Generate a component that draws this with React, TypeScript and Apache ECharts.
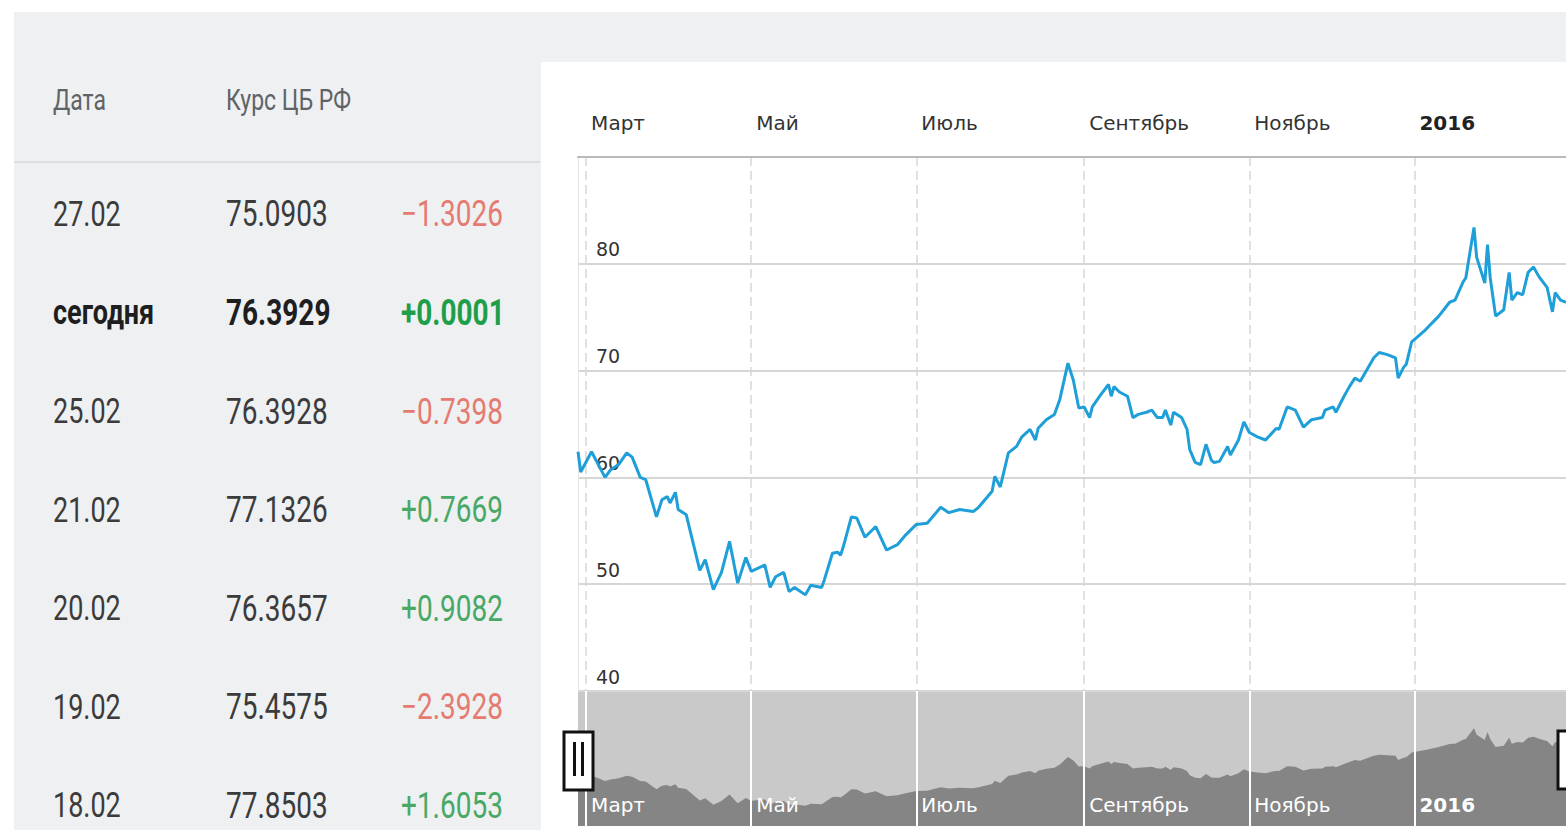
import React, { useEffect, useRef } from "react";
import * as echarts from "echarts";

// ---- data ----
const RATE_DATES = [
  "2015-02-26","2015-02-27","2015-03-03","2015-03-08","2015-03-10","2015-03-13","2015-03-16","2015-03-18","2015-03-21","2015-03-23",
  "2015-03-27","2015-03-29","2015-03-31","2015-04-01","2015-04-03","2015-04-04","2015-04-07","2015-04-12","2015-04-14","2015-04-17",
  "2015-04-20","2015-04-23","2015-04-26","2015-04-29","2015-05-01","2015-05-06","2015-05-08","2015-05-10","2015-05-13","2015-05-15",
  "2015-05-17","2015-05-21","2015-05-23","2015-05-27","2015-05-28","2015-05-31","2015-06-02","2015-06-03","2015-06-04","2015-06-07",
  "2015-06-09","2015-06-12","2015-06-16","2015-06-20","2015-06-24","2015-06-27","2015-07-01","2015-07-05","2015-07-10","2015-07-13",
  "2015-07-17","2015-07-22","2015-07-24","2015-07-29","2015-07-30","2015-08-01","2015-08-04","2015-08-07","2015-08-09","2015-08-12",
  "2015-08-14","2015-08-15","2015-08-18","2015-08-21","2015-08-23","2015-08-26","2015-08-28","2015-08-30","2015-09-01","2015-09-03",
  "2015-09-04","2015-09-07","2015-09-10","2015-09-11","2015-09-12","2015-09-14","2015-09-17","2015-09-19","2015-09-21","2015-09-24",
  "2015-09-26","2015-09-28","2015-09-30","2015-10-01","2015-10-03","2015-10-04","2015-10-07","2015-10-09","2015-10-10","2015-10-12",
  "2015-10-14","2015-10-16","2015-10-18","2015-10-19","2015-10-21","2015-10-24","2015-10-25","2015-10-28","2015-10-30","2015-11-01",
  "2015-11-04","2015-11-07","2015-11-11","2015-11-12","2015-11-15","2015-11-18","2015-11-21","2015-11-24","2015-11-28","2015-11-29",
  "2015-12-02","2015-12-03","2015-12-06","2015-12-08","2015-12-10","2015-12-12","2015-12-17","2015-12-19","2015-12-22","2015-12-25",
  "2015-12-26","2015-12-28","2015-12-29","2015-12-31","2016-01-05","2016-01-10","2016-01-14","2016-01-16","2016-01-19","2016-01-20",
  "2016-01-23","2016-01-24","2016-01-27","2016-01-28","2016-01-29","2016-01-31","2016-02-03","2016-02-05","2016-02-06","2016-02-08",
  "2016-02-10","2016-02-12","2016-02-14","2016-02-16","2016-02-19","2016-02-21","2016-02-22","2016-02-24","2016-02-26"
];
const RATE_VALUES = [
  62.4,60.5,62.4,60.0,60.7,61.2,62.3,61.9,60.0,59.8,
  56.3,57.9,58.2,57.6,58.6,57.0,56.5,51.3,52.3,49.5,
  51.1,54.0,50.1,52.5,51.2,51.8,49.7,50.7,51.1,49.3,
  49.7,49.0,49.9,49.7,50.4,52.9,53.0,52.7,53.5,56.3,
  56.2,54.4,55.4,53.2,53.7,54.6,55.6,55.7,57.2,56.7,
  57.0,56.8,57.2,58.7,60.1,59.1,62.3,62.9,63.8,64.5,
  63.5,64.6,65.4,65.9,67.3,70.7,69.1,66.5,66.6,65.6,
  66.6,67.7,68.7,67.6,68.5,68.0,67.6,65.6,65.9,66.1,
  66.3,65.6,65.6,66.3,64.9,66.1,65.6,64.5,62.6,61.4,
  61.2,63.1,61.6,61.4,61.5,62.9,62.1,63.5,65.2,64.2,
  63.8,63.5,64.6,64.5,66.6,66.3,64.7,65.4,65.6,66.3,
  66.6,66.1,67.6,68.5,69.3,69.0,71.2,71.7,71.5,71.2,
  69.3,70.3,70.6,72.7,73.8,75.1,76.4,76.6,78.3,78.7,
  83.4,80.6,78.2,81.8,78.7,75.1,75.7,79.2,76.6,77.3,
  77.1,79.2,79.7,78.8,77.8,75.5,77.3,76.6,76.4
];
const X_START = "2015-02-26";
const X_END = "2016-02-26";
const MONTH_TICKS = ["2015-03-01", "2015-05-01", "2015-07-01", "2015-09-01", "2015-11-01", "2016-01-01"];
const MONTH_LABELS = ["Март", "Май", "Июль", "Сентябрь", "Ноябрь", "2016"];
const BOLD_LABELS = ["2016"];
const Y_MIN = 40;
const Y_MAX = 90;
const Y_STEP = 10;
const NAV_Y_MIN = 40;
const NAV_Y_MAX = 100;

const TABLE_HEADERS = ["Дата", "Курс ЦБ РФ"];
const TABLE_DATES = ["27.02", "сегодня", "25.02", "21.02", "20.02", "19.02", "18.02"];
const TABLE_RATES = ["75.0903", "76.3929", "76.3928", "77.1326", "76.3657", "75.4575", "77.8503"];
const TABLE_CHANGES = ["−1.3026", "+0.0001", "−0.7398", "+0.7669", "+0.9082", "−2.3928", "+1.6053"];
const TODAY_ROW = 1;

// ---- helpers ----
const ts = (s: string) => {
  const [y, m, d] = s.split("-").map(Number);
  return new Date(y, m - 1, d).getTime();
};

const TICK_TS = MONTH_TICKS.map(ts);
const labelFor = (v: number) => {
  const i = TICK_TS.findIndex((t) => Math.abs(t - v) < 43200000);
  if (i < 0) return "";
  const lab = MONTH_LABELS[i];
  return BOLD_LABELS.includes(lab) ? `{b|${lab}}` : lab;
};

const CHART_FONT = "'DejaVu Sans', Verdana, sans-serif";
const TABLE_FONT = "Roboto, 'Noto Sans', sans-serif";

export default function App() {
  const ref = useRef<HTMLDivElement>(null);

  useEffect(() => {
    if (!ref.current) return;
    const chart = echarts.init(ref.current, undefined, { renderer: "svg" });
    const data = RATE_DATES.map((d, i) => [ts(d), RATE_VALUES[i]]);

    const W = 1566;
    const H = 830;
    const plotLeft = 578;
    const mainTop = 157;
    const navTop = 691;
    const navBottom = 826;

    const textEl = (
      text: string,
      x: number,
      y: number,
      fill: string,
      size: number,
      weight: string = "normal"
    ) => ({
      type: "text",
      x,
      y,
      scaleY: 1.3,
      z: 20,
      style: {
        text,
        fill,
        fontSize: size,
        lineHeight: size,
        fontFamily: TABLE_FONT,
        fontWeight: weight,
        align: "left",
        verticalAlign: "middle",
        textAlign: "left",
        textVerticalAlign: "middle",
      },
    });

    const rowY0 = 214;
    const rowStep = 98.6;
    const tableTexts: any[] = [
      textEl(TABLE_HEADERS[0], 53, 100, "#5f6366", 23),
      textEl(TABLE_HEADERS[1], 226, 100, "#5f6366", 23),
    ];
    TABLE_DATES.forEach((d, i) => {
      const y = rowY0 + i * rowStep;
      const bold = i === TODAY_ROW;
      const ch = TABLE_CHANGES[i];
      const up = ch.startsWith("+");
      const chColor = bold ? "#1f9e4a" : up ? "#48a865" : "#e57b70";
      tableTexts.push(textEl(d, 53, y, bold ? "#1e1e1e" : "#3b3b3b", 27, bold ? "bold" : "normal"));
      tableTexts.push(textEl(TABLE_RATES[i], 226, y, bold ? "#1e1e1e" : "#3b3b3b", 28, bold ? "bold" : "normal"));
      tableTexts.push(textEl(ch, 401, y, chColor, 28, bold ? "bold" : "normal"));
    });

    const handle = (x: number, y: number) => ({
      type: "group",
      x,
      y,
      z: 30,
      children: [
        { type: "rect", shape: { x: 0, y: 0, width: 29, height: 58 }, style: { fill: "#ffffff", stroke: "#111111", lineWidth: 3 }, z: 30 },
        { type: "rect", shape: { x: 9, y: 10, width: 3, height: 34 }, style: { fill: "#111111" }, z: 31 },
        { type: "rect", shape: { x: 17, y: 10, width: 3, height: 34 }, style: { fill: "#111111" }, z: 31 },
      ],
    });

    chart.setOption({
      animation: false,
      backgroundColor: "#ffffff",
      graphic: {
        elements: [
          { type: "rect", z: -2, shape: { x: 14, y: 12, width: W - 14, height: H - 12 }, style: { fill: "#eef0f2" } },
          { type: "rect", z: -1, shape: { x: 541, y: 62, width: W - 541, height: H - 62 }, style: { fill: "#ffffff" } },
          { type: "line", z: -1, shape: { x1: 14, y1: 162, x2: 540, y2: 162 }, style: { stroke: "#dcdfe2", lineWidth: 2 } },
          ...tableTexts,
          handle(564, 732),
          handle(1558, 731),
        ],
      },
      grid: [
        { left: plotLeft, right: 0, top: mainTop, bottom: H - navTop, containLabel: false },
        {
          left: plotLeft,
          right: 0,
          top: navTop,
          bottom: H - navBottom,
          show: true,
          backgroundColor: "#c9c9c9",
          borderWidth: 0,
        },
      ],
      xAxis: [
        {
          type: "value",
          gridIndex: 0,
          position: "top",
          min: ts(X_START),
          max: ts(X_END),
          axisLine: { show: true, lineStyle: { color: "#b9b9b9", width: 2 } },
          axisTick: { show: false, customValues: TICK_TS },
          axisLabel: {
            customValues: TICK_TS,
            formatter: labelFor,
            align: "left",
            padding: [0, 0, 0, 5],
            margin: 24,
            color: "#333333",
            fontFamily: CHART_FONT,
            fontSize: 20,
            rich: { b: { fontWeight: "bold", fontFamily: CHART_FONT, fontSize: 20, color: "#222222" } },
            hideOverlap: false,
          },
          splitLine: { show: true, lineStyle: { color: "#d8d8d8", width: 1.5, type: [9, 5] } },
        },
        {
          type: "value",
          gridIndex: 1,
          position: "bottom",
          min: ts(X_START),
          max: ts(X_END),
          z: 5,
          axisLine: { show: false },
          axisTick: { show: false, customValues: TICK_TS },
          axisLabel: {
            inside: true,
            customValues: TICK_TS,
            formatter: labelFor,
            align: "left",
            padding: [0, 0, 0, 5],
            margin: 11,
            color: "#ffffff",
            fontFamily: CHART_FONT,
            fontSize: 20,
            rich: { b: { fontWeight: "bold", fontFamily: CHART_FONT, fontSize: 20, color: "#ffffff" } },
          },
          splitLine: { show: true, lineStyle: { color: "#ffffff", width: 2, type: "solid" } },
        },
      ],
      yAxis: [
        {
          type: "value",
          gridIndex: 0,
          min: Y_MIN,
          max: Y_MAX,
          interval: Y_STEP,
          axisLine: { show: true, lineStyle: { color: "#e4e4e4", width: 1 } },
          axisTick: { show: false },
          axisLabel: {
            inside: true,
            margin: 18,
            showMaxLabel: false,
            verticalAlign: "bottom",
            padding: [0, 0, 5, 0],
            color: "#333333",
            fontFamily: CHART_FONT,
            fontSize: 19,
          },
          splitLine: { show: true, lineStyle: { color: "#d6d6d6", width: 2 } },
        },
        {
          type: "value",
          gridIndex: 1,
          min: NAV_Y_MIN,
          max: NAV_Y_MAX,
          show: false,
          splitLine: { show: false },
        },
      ],
      series: [
        {
          type: "line",
          xAxisIndex: 0,
          yAxisIndex: 0,
          data,
          showSymbol: false,
          symbol: "none",
          clip: true,
          lineStyle: { color: "#1f9fd8", width: 3 },
          z: 3,
        },
        {
          type: "line",
          xAxisIndex: 1,
          yAxisIndex: 1,
          data,
          showSymbol: false,
          symbol: "none",
          lineStyle: { width: 0, color: "#858585" },
          areaStyle: { color: "#858585", opacity: 1 },
          z: 2,
        },
      ],
    });

    return () => chart.dispose();
  }, []);

  return (
    <div
      ref={ref}
      style={{ position: "absolute", left: 0, top: 0, width: 1566, height: 830, overflow: "hidden" }}
    />
  );
}
